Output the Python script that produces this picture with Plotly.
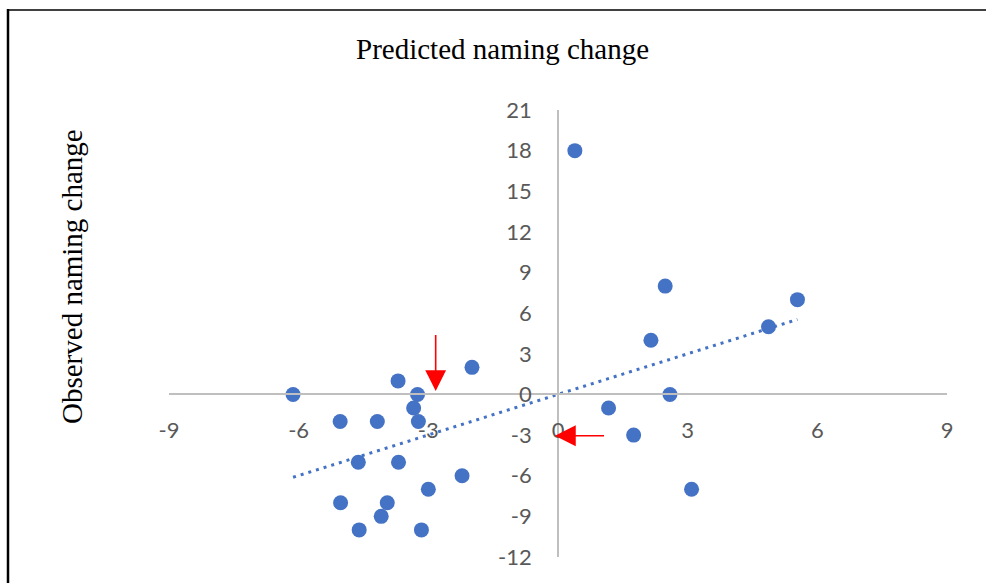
import numpy as np
import plotly.graph_objects as go

# data
predicted = [-6.13, -5.04, -4.18, -3.23, -3.70, -3.25, -3.34, -1.99, -4.62, -3.69,
             -2.22, -3.00, -5.03, -3.95, -4.09, -4.60, -3.16,
             0.39, 2.48, 2.15, 4.87, 5.54, 2.59, 1.17, 1.75, 3.09]
observed = [0, -2, -2, -2, 1, 0, -1, 2, -5, -5,
            -6, -7, -8, -8, -9, -10, -10,
            18, 8, 4, 5, 7, 0, -1, -3, -7]
x_ticks = [-9, -6, -3, 0, 3, 6, 9]
x_tick_labels = ["-9", "-6", "-3", "0", "3", "6", "9"]
y_ticks = [-12, -9, -6, -3, 0, 3, 6, 9, 12, 15, 18, 21]
y_tick_labels = ["-12", "-9", "-6", "-3", "0", "3", "6", "9", "12", "15", "18", "21"]
title_text = "Predicted naming change"
ytitle_text = "Observed naming change"

# arrows (tail -> tip) in data units
arrow_v = dict(tail=(-2.83, 4.5), tip=(-2.83, 0.25))
arrow_h = dict(tail=(1.10, -3.05), tip=(-0.07, -3.05))

# linear trendline
slope, intercept = np.polyfit(predicted, observed, 1)
tx = np.array([min(predicted), max(predicted)])
ty = slope * tx + intercept

BLUE = "#4472C4"
GRID = "#BFBFBF"
TICKC = "#595959"

fig = go.Figure()
fig.add_trace(go.Scatter(x=tx, y=ty, mode="lines",
                         line=dict(color=BLUE, width=3, dash="3px,5px"),
                         hoverinfo="skip", showlegend=False))
fig.add_trace(go.Scatter(x=predicted, y=observed, mode="markers",
                         marker=dict(color=BLUE, size=15, line=dict(width=0)),
                         showlegend=False))

ymin, ymax = -12, 21
zero_frac = (0 - ymin) / (ymax - ymin)

fig.update_layout(
    width=986, height=583,
    margin=dict(l=169, r=39, t=110, b=26),
    paper_bgcolor="white", plot_bgcolor="white",
    showlegend=False,
    xaxis=dict(range=[-9, 9], tickvals=x_ticks, ticktext=x_tick_labels,
               anchor="free", position=zero_frac,
               showgrid=False, zeroline=False, showline=True, linecolor=GRID, linewidth=1.8,
               ticks="", ticklabelstandoff=16,
               tickfont=dict(family="Lato", size=22, color=TICKC)),
    yaxis=dict(range=[ymin, ymax], tickvals=y_ticks, ticktext=y_tick_labels,
               anchor="free", position=0.5,
               showgrid=False, zeroline=False, showline=True, linecolor=GRID, linewidth=1.8,
               ticks="", ticklabelstandoff=21,
               tickfont=dict(family="Lato", size=22, color=TICKC)),
)

# title and y title
fig.add_annotation(text=title_text, xref="paper", yref="paper",
                   x=(502 - 169) / 778, y=(557 - 49) / 447, showarrow=False,
                   xanchor="center", yanchor="middle",
                   font=dict(family="Liberation Serif", size=29, color="black"))
fig.add_annotation(text=ytitle_text, xref="paper", yref="paper",
                   x=(72 - 169) / 778, y=(557 - 277) / 447, showarrow=False,
                   textangle=-90, xanchor="center", yanchor="middle",
                   font=dict(family="Liberation Serif", size=29, color="black"))

# red arrows
for a in (arrow_v, arrow_h):
    fig.add_annotation(x=a["tip"][0], y=a["tip"][1], ax=a["tail"][0], ay=a["tail"][1],
                       xref="x", yref="y", axref="x", ayref="y", text="",
                       showarrow=True, arrowhead=2, arrowsize=2.6, arrowwidth=1.6,
                       arrowcolor="#FF0000", standoff=0)

# frame lines (left and top)
fx = lambda px: (px - 169) / 778
fy = lambda py: (557 - py) / 447
fig.add_shape(type="line", xref="paper", yref="paper", x0=fx(8), x1=fx(8),
              y0=fy(9), y1=fy(590), line=dict(color="black", width=2.5))
fig.add_shape(type="line", xref="paper", yref="paper", x0=fx(7), x1=fx(986),
              y0=fy(10), y1=fy(10), line=dict(color="black", width=1.5))

fig.write_html("out.html")
